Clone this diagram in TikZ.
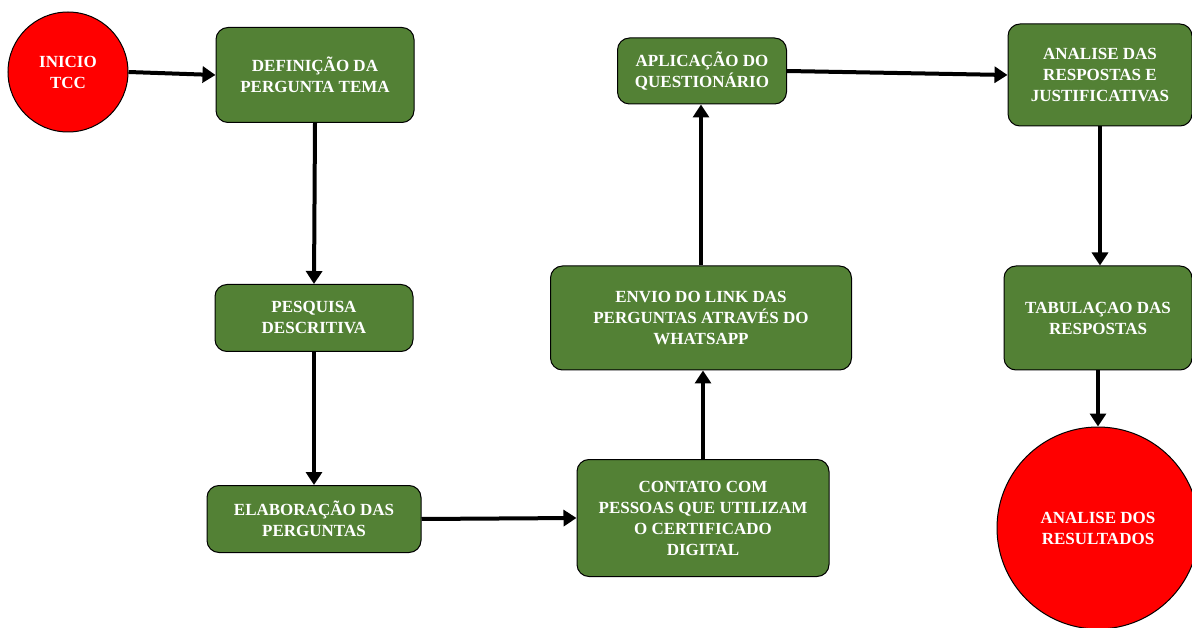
\documentclass[tikz,border=0pt]{standalone}
\usepackage{fontspec}
\setmainfont{Liberation Serif}
\usetikzlibrary{arrows.meta}
\definecolor{boxgreen}{HTML}{538135}
\tikzset{
  stepbox/.style={draw=black, line width=1pt, fill=boxgreen, rounded corners=12pt,
    text=white, font=\bfseries\fontsize{17}{21}\selectfont, align=center, inner sep=0pt},
  endcircle/.style={draw=black, line width=1pt, fill=red, circle, inner sep=0pt,
    text=white, font=\bfseries\fontsize{17}{21}\selectfont, align=center},
  flow/.style={line width=4pt, -{Triangle[width=16pt,length=13pt]}}
}
\begin{document}
\begin{tikzpicture}[x=1pt,y=-1pt]
\useasboundingbox (0,0) rectangle (1192,628);
\clip (0,0) rectangle (1192,628);
\node[endcircle, minimum size=120pt] (ini) at (68,72) {INICIO\\TCC};
\node[stepbox, minimum width=198pt, minimum height=95pt] (def) at (315,75) {DEFINIÇÃO DA\\PERGUNTA TEMA};
\node[stepbox, minimum width=198pt, minimum height=67pt] (pes) at (314,318) {PESQUISA\\DESCRITIVA};
\node[stepbox, minimum width=214pt, minimum height=67pt] (ela) at (314,519) {ELABORAÇÃO DAS\\PERGUNTAS};
\node[stepbox, minimum width=252pt, minimum height=117pt] (con) at (703,518) {CONTATO COM\\PESSOAS QUE UTILIZAM\\O CERTIFICADO\\DIGITAL};
\node[stepbox, minimum width=301pt, minimum height=104pt] (env) at (701,318) {ENVIO DO LINK DAS\\PERGUNTAS ATRAVÉS DO\\WHATSAPP};
\node[stepbox, minimum width=169pt, minimum height=66pt] (apl) at (702,71) {APLICAÇÃO DO\\QUESTIONÁRIO};
\node[stepbox, minimum width=184pt, minimum height=102pt] (ana) at (1100,75) {ANALISE DAS\\RESPOSTAS E\\JUSTIFICATIVAS};
\node[stepbox, minimum width=188pt, minimum height=104pt] (tab) at (1098,318) {TABULAÇAO DAS\\RESPOSTAS};
\node[endcircle, minimum size=202pt] (res) at (1098,528) {ANALISE DOS\\RESULTADOS};
\draw[flow] (ini.east) -- (def.west);
\draw[flow] (def.south) -- (pes.north);
\draw[flow] (pes.south) -- (ela.north);
\draw[flow] (ela.east) -- (con.west);
\draw[flow] (con.north) -- (con.north |- env.south);
\draw[flow] (env.north) -- (env.north |- apl.south);
\draw[flow] (apl.east) -- (ana.west);
\draw[flow] (ana.south) -- (ana.south |- tab.north);
\draw[flow] (tab.south) -- (res.north);
\end{tikzpicture}
\end{document}
